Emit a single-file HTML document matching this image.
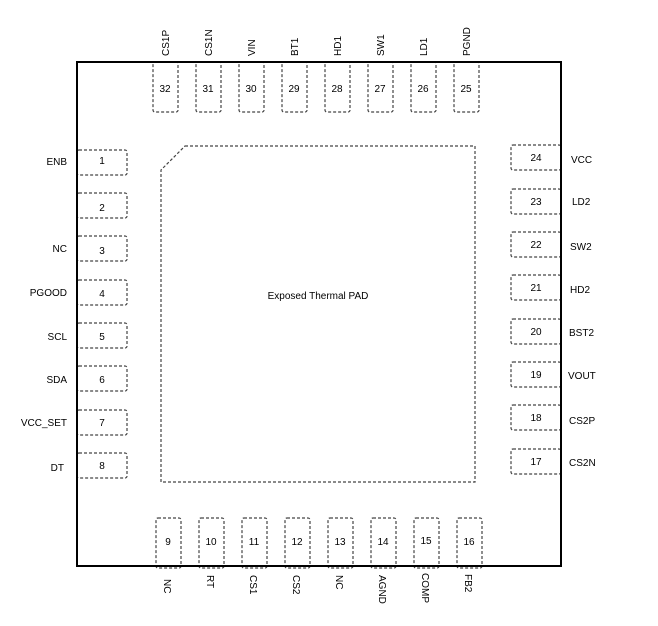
<!DOCTYPE html>
<html><head><meta charset="utf-8"><style>body{margin:0;background:#fff}svg{display:block}text{font-family:"Liberation Sans",Arial,sans-serif;font-size:10px;fill:#000}</style></head><body>
<svg width="658" height="626" viewBox="0 0 658 626">
<g fill="none" stroke="#444" stroke-width="1.2" stroke-dasharray="3,2">
<path d="M185,146 H475 V482 H161 V170 Z"/>
<rect x="77" y="150" width="50" height="25" rx="2"/>
<rect x="77" y="193" width="50" height="25" rx="2"/>
<rect x="77" y="236" width="50" height="25" rx="2"/>
<rect x="77" y="280" width="50" height="25" rx="2"/>
<rect x="77" y="323" width="50" height="25" rx="2"/>
<rect x="77" y="366" width="50" height="25" rx="2"/>
<rect x="77" y="410" width="50" height="25" rx="2"/>
<rect x="77" y="453" width="50" height="25" rx="2"/>
<rect x="511" y="145" width="50" height="25" rx="2"/>
<rect x="511" y="189" width="50" height="25" rx="2"/>
<rect x="511" y="232" width="50" height="25" rx="2"/>
<rect x="511" y="275" width="50" height="25" rx="2"/>
<rect x="511" y="319" width="50" height="25" rx="2"/>
<rect x="511" y="362" width="50" height="25" rx="2"/>
<rect x="511" y="405" width="50" height="25" rx="2"/>
<rect x="511" y="449" width="50" height="25" rx="2"/>
<rect x="153" y="62" width="25" height="50" rx="2"/>
<rect x="196" y="62" width="25" height="50" rx="2"/>
<rect x="239" y="62" width="25" height="50" rx="2"/>
<rect x="282" y="62" width="25" height="50" rx="2"/>
<rect x="325" y="62" width="25" height="50" rx="2"/>
<rect x="368" y="62" width="25" height="50" rx="2"/>
<rect x="411" y="62" width="25" height="50" rx="2"/>
<rect x="454" y="62" width="25" height="50" rx="2"/>
<rect x="156" y="518" width="25" height="50" rx="2"/>
<rect x="199" y="518" width="25" height="50" rx="2"/>
<rect x="242" y="518" width="25" height="50" rx="2"/>
<rect x="285" y="518" width="25" height="50" rx="2"/>
<rect x="328" y="518" width="25" height="50" rx="2"/>
<rect x="371" y="518" width="25" height="50" rx="2"/>
<rect x="414" y="518" width="25" height="50" rx="2"/>
<rect x="457" y="518" width="25" height="50" rx="2"/>
</g>
<rect x="77" y="62" width="484" height="504" fill="none" stroke="#000" stroke-width="2"/>
<text x="318" y="299" text-anchor="middle">Exposed Thermal PAD</text>
<g text-anchor="middle">
<text x="102" y="164">1</text><text x="102" y="211">2</text><text x="102" y="254">3</text><text x="102" y="297">4</text>
<text x="102" y="340">5</text><text x="102" y="383">6</text><text x="102" y="426">7</text><text x="102" y="469">8</text>
<text x="536" y="161">24</text><text x="536" y="205">23</text><text x="536" y="248">22</text><text x="536" y="291">21</text>
<text x="536" y="335">20</text><text x="536" y="378">19</text><text x="536" y="421">18</text><text x="536" y="465">17</text>
<text x="165" y="92">32</text><text x="208" y="92">31</text><text x="251" y="92">30</text><text x="294" y="92">29</text>
<text x="337" y="92">28</text><text x="380" y="92">27</text><text x="423" y="92">26</text><text x="466" y="92">25</text>
<text x="168" y="545">9</text><text x="211" y="545">10</text><text x="254" y="545">11</text><text x="297" y="545">12</text>
<text x="340" y="545">13</text><text x="383" y="545">14</text><text x="426" y="544">15</text><text x="469" y="545">16</text>
</g>
<g text-anchor="end">
<text x="67" y="165">ENB</text><text x="67" y="252">NC</text><text x="67" y="296">PGOOD</text>
<text x="67" y="340">SCL</text><text x="67" y="383">SDA</text><text x="67" y="426">VCC_SET</text><text x="64" y="471">DT</text>
</g>
<g>
<text x="571" y="163">VCC</text><text x="572" y="205">LD2</text><text x="570" y="250">SW2</text><text x="570" y="293">HD2</text>
<text x="569" y="336">BST2</text><text x="568" y="379">VOUT</text><text x="569" y="424">CS2P</text><text x="569" y="466">CS2N</text>
</g>
<g>
<text transform="translate(169,56) rotate(-90)">CS1P</text>
<text transform="translate(212,56) rotate(-90)">CS1N</text>
<text transform="translate(255,56) rotate(-90)">VIN</text>
<text transform="translate(298,56) rotate(-90)">BT1</text>
<text transform="translate(341,56) rotate(-90)">HD1</text>
<text transform="translate(384,56) rotate(-90)">SW1</text>
<text transform="translate(427,56) rotate(-90)">LD1</text>
<text transform="translate(470,56) rotate(-90)">PGND</text>
<text transform="translate(164,579) rotate(90)">NC</text>
<text transform="translate(207,575) rotate(90)">RT</text>
<text transform="translate(250,575) rotate(90)">CS1</text>
<text transform="translate(293,575) rotate(90)">CS2</text>
<text transform="translate(336,575) rotate(90)">NC</text>
<text transform="translate(379,575) rotate(90)">AGND</text>
<text transform="translate(422,573) rotate(90)">COMP</text>
<text transform="translate(465,574) rotate(90)">FB2</text>
</g>
</svg>
</body></html>
